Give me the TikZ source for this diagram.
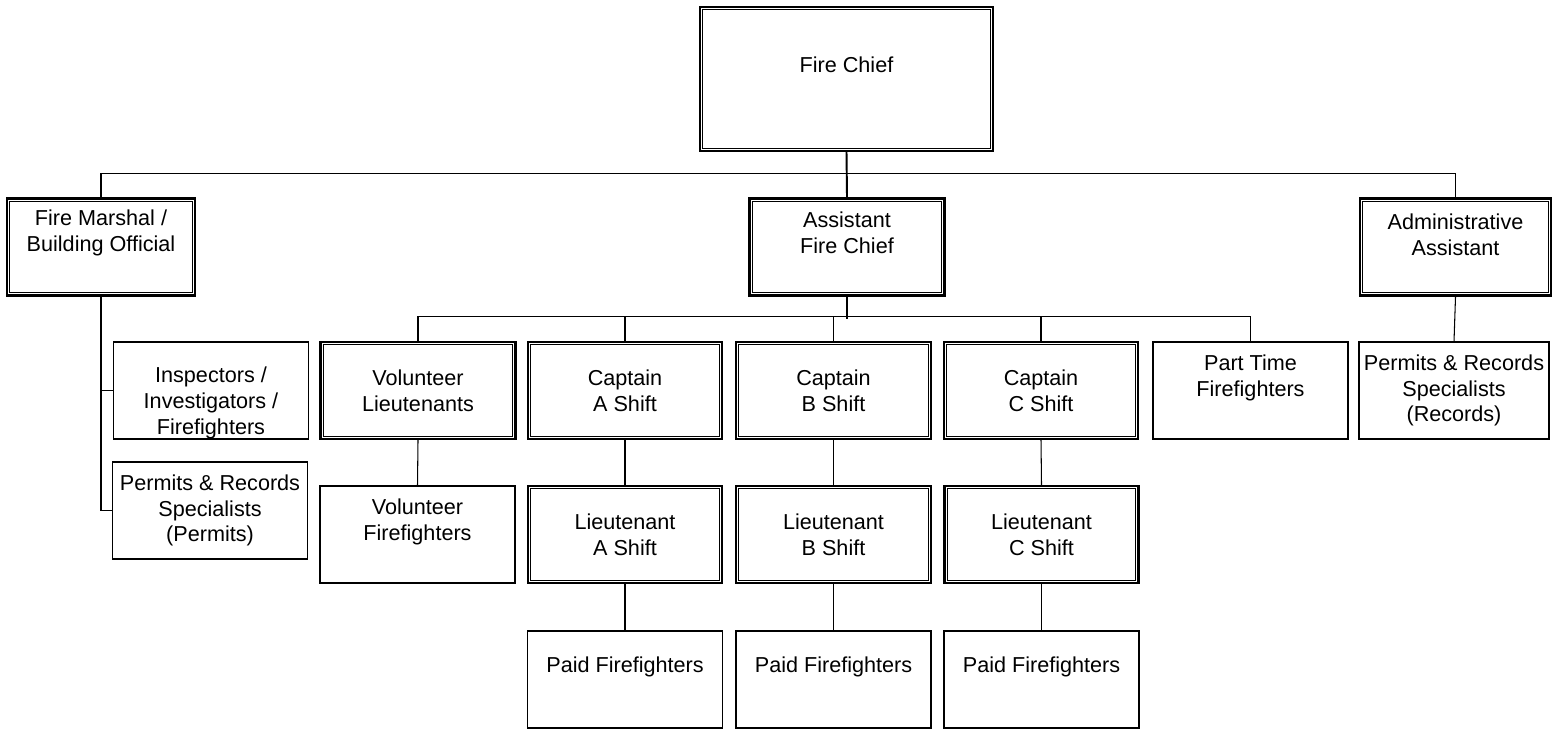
\documentclass[tikz,border=0pt]{standalone}
\usepackage{fontspec}
\setmainfont{Liberation Sans}
\usetikzlibrary{calc}

\tikzset{
  box/.style={draw, line width=0.8pt, minimum width=3.9cm, minimum height=1.94cm, inner sep=0pt},
  dbox/.style={box, line width=1.4pt},
  txt/.style 2 args={label={[yshift=#1]center:#2}},
  every label/.style={align=center, inner sep=0pt},
  link/.style={line width=0.6pt}
}

\begin{document}
\begin{tikzpicture}[x=0.02cm, y=-0.02cm, font=\fontsize{12.3}{14.7}\selectfont]
\useasboundingbox (0,0) rectangle (1557,730);

% Top level
\node[dbox, minimum width=5.86cm, minimum height=2.88cm, txt={8pt}{Fire Chief}] (fc) at (846.5,79) {};

% Second level
\node[dbox, minimum width=3.76cm, txt={8pt}{Fire Marshal /\\Building Official}] (fm) at (101,247) {};
\node[dbox, txt={8pt}{Assistant\\Fire Chief}] (afc) at (847,247) {};
\node[dbox, minimum width=3.82cm, txt={7pt}{Administrative\\Assistant}] (aa) at (1455.5,247) {};

% Under the fire marshal
\node[box, txt={-7pt}{Inspectors /\\Investigators /\\Firefighters}] (ins) at (211,390.5) {};
\node[box, txt={0pt}{Permits \& Records\\Specialists\\(Permits)}] (prp) at (210,510.5) {};

% Under the assistant chief
\node[dbox, txt={0pt}{Volunteer\\Lieutenants}] (vl) at (418,390.5) {};
\node[dbox, minimum width=3.88cm, txt={0pt}{Captain\\A Shift}] (ca) at (625,390.5) {};
\node[dbox, txt={0pt}{Captain\\B Shift}] (cb) at (833.5,390.5) {};
\node[dbox, minimum width=3.88cm, txt={0pt}{Captain\\C Shift}] (cc) at (1041,390.5) {};
\node[box, txt={7pt}{Part Time\\Firefighters}] (pt) at (1250.5,390.5) {};

% Under the administrative assistant
\node[box, minimum width=3.8cm, txt={0pt}{Permits \& Records\\Specialists\\(Records)}] (prr) at (1454,390.5) {};

% Third and fourth rows
\node[box, txt={7pt}{Volunteer\\Firefighters}] (vf) at (417.5,534.5) {};
\node[dbox, minimum width=3.88cm, txt={0pt}{Lieutenant\\A Shift}] (la) at (625,534.5) {};
\node[dbox, txt={0pt}{Lieutenant\\B Shift}] (lb) at (833.5,534.5) {};
\node[dbox, minimum width=3.88cm, txt={0pt}{Lieutenant\\C Shift}] (lc) at (1041.5,534.5) {};
\node[box, txt={7.4pt}{Paid Firefighters}] (pa) at (625,679.5) {};
\node[box, txt={7.4pt}{Paid Firefighters}] (pb) at (833.5,679.5) {};
\node[box, txt={7.4pt}{Paid Firefighters}] (pc) at (1041.5,679.5) {};

% Inner lines of the double boxes
\foreach \n in {fc,fm,afc,aa,vl,ca,cb,cc,la,lb,lc}
  \draw[line width=0.7pt] ([shift={(4,4)}]\n.north west) rectangle ([shift={(-4,-4)}]\n.south east);

% Connectors
\draw[link, line width=1.1pt] (fc.south) -- (afc.north);
\draw[link] (fm.north) -- ++(0,-24) -| (aa.north);
\draw[link] (fm.south) |- (prp.west);
\draw[link] (fm.south |- ins.west) -- (ins.west);
\draw[link] (afc.south) -- ++(0,22);
\draw[link] (vl.north) -- ++(0,-24) -| (pt.north);
\foreach \n in {ca,cb,cc}
  \draw[link] (\n.north) -- ++(0,-24);
\draw[link] (aa.south) -- (prr.north);
\draw[link] (vl.south) -- (vf.north);
\draw[link] (ca.south) -- (la.north);
\draw[link] (cb.south) -- (lb.north);
\draw[link] (cc.south) -- (lc.north);
\draw[link] (la.south) -- (pa.north);
\draw[link] (lb.south) -- (pb.north);
\draw[link] (lc.south) -- (pc.north);

\end{tikzpicture}
\end{document}
